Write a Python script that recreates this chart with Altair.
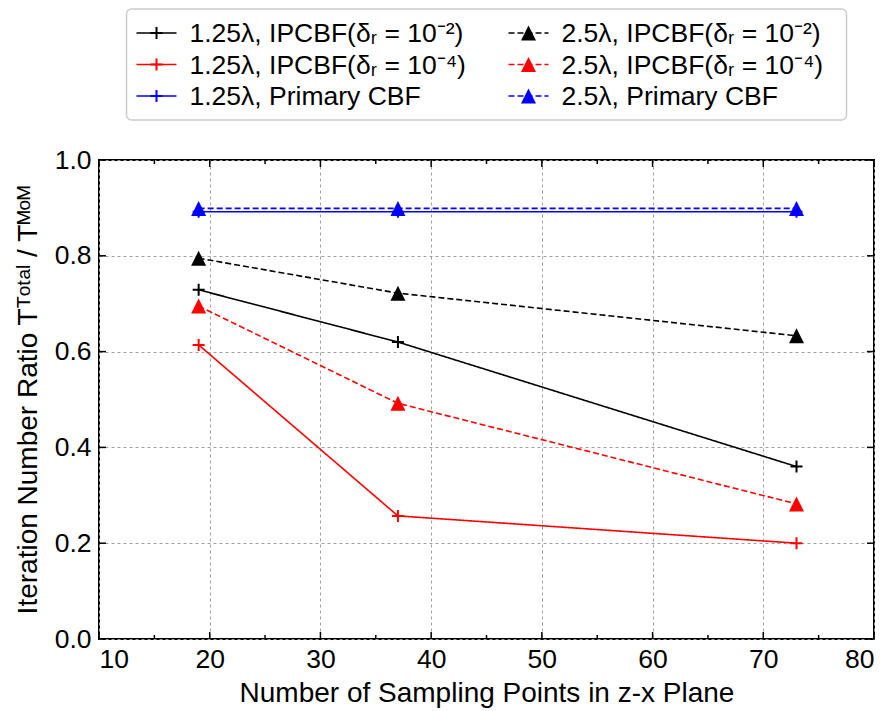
import altair as alt
import pandas as pd

# ---------------- data ----------------
x_points = [19, 37, 73]
y_125_ip2 = [0.729, 0.620, 0.360]
y_125_ip4 = [0.614, 0.257, 0.200]
y_125_pri = [0.892, 0.892, 0.892]
y_25_ip2 = [0.795, 0.722, 0.633]
y_25_ip4 = [0.695, 0.492, 0.282]
y_25_pri = [0.899, 0.899, 0.899]

series_labels = [
    "1.25λ, IPCBF(δᵣ = 10⁻²)",
    "1.25λ, IPCBF(δᵣ = 10⁻⁴)",
    "1.25λ, Primary CBF",
    "2.5λ, IPCBF(δᵣ = 10⁻²)",
    "2.5λ, IPCBF(δᵣ = 10⁻⁴)",
    "2.5λ, Primary CBF",
]
series_colors = ["#000000", "#ff0000", "#0000ff", "#000000", "#ff0000", "#0000ff"]
series_groups = ["1.25", "1.25", "1.25", "2.5", "2.5", "2.5"]
series_values = [y_125_ip2, y_125_ip4, y_125_pri, y_25_ip2, y_25_ip4, y_25_pri]

x_ticks = [10, 20, 30, 40, 50, 60, 70, 80]
x_minor = [15, 25, 35, 45, 55, 65, 75]
y_ticks = [0.0, 0.2, 0.4, 0.6, 0.8, 1.0]

x_title = "Number of Sampling Points in z-x Plane"
y_title = "Iteration Number Ratio  Tᵀᵒᵗᵃˡ / Tᴹᵒᴹ"

FONT = "Liberation Sans"
PW, PH = 775, 479
PLUS = "M-1,0L1,0M0,-1L0,1"
TRI = "M0,-1L1,1L-1,1Z"

rows = []
for lab, col, grp, vals in zip(series_labels, series_colors, series_groups, series_values):
    for xv, yv in zip(x_points, vals):
        rows.append(dict(series=lab, color=col, group=grp, x=xv, y=yv))
df = pd.DataFrame(rows)

xs = alt.Scale(domain=[10, 80], nice=False, zero=False)
ys = alt.Scale(domain=[0, 1], nice=False)

dash_scale = alt.Scale(domain=["1.25", "2.5"], range=[[1, 0], [6, 3]])

base = alt.Chart(df)

lines = base.mark_line(strokeWidth=1.6).encode(
    x=alt.X("x:Q", scale=xs, axis=alt.Axis(
        values=x_ticks, title=x_title, ticks=False, tickSize=0, domain=False,
        grid=True, labelPadding=7, titlePadding=7, format="d")),
    y=alt.Y("y:Q", scale=ys, axis=alt.Axis(
        values=y_ticks, title=y_title, ticks=False, tickSize=0, domain=False,
        grid=True, labelPadding=8, titlePadding=12, format=".1f")),
    stroke=alt.Stroke("color:N", scale=None),
    strokeDash=alt.StrokeDash("group:N", scale=dash_scale, legend=None),
    detail="series:N",
)

plus_pts = base.transform_filter(alt.datum.group == "1.25").mark_point(
    shape=PLUS, size=144, strokeWidth=2, filled=False, opacity=1
).encode(
    x=alt.X("x:Q", scale=xs),
    y=alt.Y("y:Q", scale=ys),
    stroke=alt.Stroke("color:N", scale=None),
)

tri_pts = base.transform_filter(alt.datum.group == "2.5").mark_point(
    shape=TRI, size=225, filled=True, opacity=1, strokeWidth=0
).encode(
    x=alt.X("x:Q", scale=xs),
    y=alt.Y("y:Q", scale=ys),
    fill=alt.Fill("color:N", scale=None),
)

# inward ticks
xmaj = pd.DataFrame({"v": x_ticks})
xmin = pd.DataFrame({"v": x_minor})
ymaj = pd.DataFrame({"v": y_ticks})

def xtick_layers(d, length):
    b = alt.Chart(d).mark_rule(color="black", strokeWidth=1.5)
    bot = b.encode(x=alt.X("v:Q", scale=xs), y=alt.value(PH), y2=alt.value(PH - length))
    top = b.encode(x=alt.X("v:Q", scale=xs), y=alt.value(0), y2=alt.value(length))
    return [bot, top]

yb = alt.Chart(ymaj).mark_rule(color="black", strokeWidth=1.5)
yleft = yb.encode(y=alt.Y("v:Q", scale=ys), x=alt.value(0), x2=alt.value(7))
yright = yb.encode(y=alt.Y("v:Q", scale=ys), x=alt.value(PW), x2=alt.value(PW - 7))

main = alt.layer(
    lines, plus_pts, tri_pts,
    *xtick_layers(xmaj, 7), *xtick_layers(xmin, 4), yleft, yright,
).properties(
    width=PW, height=PH,
    view=alt.ViewBackground(stroke="black", strokeWidth=2),
)

# ---------------- legend ----------------
LW, LH = 720, 111
leg_rows = []
for i, (lab, col, grp) in enumerate(zip(series_labels, series_colors, series_groups)):
    c = 0 if grp == "1.25" else 1
    r = i % 3
    x0 = 10 + c * 372
    leg_rows.append(dict(series=lab, color=col, group=grp,
                         x0=x0, x1=x0 + 40, xm=x0 + 20, xt=x0 + 53,
                         yy=24 + r * 31.5))
ldf = pd.DataFrame(leg_rows)
lxs = alt.Scale(domain=[0, LW])
lys = alt.Scale(domain=[0, LH], range=[0, LH])
lb = alt.Chart(ldf)

leg_lines = lb.mark_rule(strokeWidth=1.6).encode(
    x=alt.X("x0:Q", scale=lxs, axis=None), x2="x1:Q",
    y=alt.Y("yy:Q", scale=lys, axis=None),
    stroke=alt.Stroke("color:N", scale=None),
    strokeDash=alt.StrokeDash("group:N", scale=dash_scale, legend=None),
)
leg_plus = lb.transform_filter(alt.datum.group == "1.25").mark_point(
    shape=PLUS, size=144, strokeWidth=2, filled=False, opacity=1
).encode(
    x=alt.X("xm:Q", scale=lxs, axis=None),
    y=alt.Y("yy:Q", scale=lys, axis=None),
    stroke=alt.Stroke("color:N", scale=None),
)
leg_tri = lb.transform_filter(alt.datum.group == "2.5").mark_point(
    shape=TRI, size=225, filled=True, opacity=1, strokeWidth=0
).encode(
    x=alt.X("xm:Q", scale=lxs, axis=None),
    y=alt.Y("yy:Q", scale=lys, axis=None),
    fill=alt.Fill("color:N", scale=None),
)
leg_text = lb.mark_text(align="left", baseline="middle", font=FONT, fontSize=26.5,
                        color="black", dy=1).encode(
    x=alt.X("xt:Q", scale=lxs, axis=None),
    y=alt.Y("yy:Q", scale=lys, axis=None),
    text="series:N",
)
legend = alt.layer(leg_lines, leg_plus, leg_tri, leg_text).properties(
    width=LW, height=LH,
    view=alt.ViewBackground(stroke="#cccccc", strokeWidth=1.5, cornerRadius=5),
)

chart = alt.vconcat(legend, main, spacing=40, bounds="flush", center=True).properties(
    padding={"left": 5, "top": 0, "right": 5, "bottom": 0}
).configure(font=FONT).configure_axis(
    labelFont=FONT, labelFontSize=26.5, labelColor="black",
    titleFont=FONT, titleFontSize=28, titleFontWeight="normal", titleColor="black",
    gridColor="#a0a0a0", gridDash=[3, 3], gridWidth=1,
)

chart.save("out.html", embed_options={"renderer": "svg", "actions": False})
